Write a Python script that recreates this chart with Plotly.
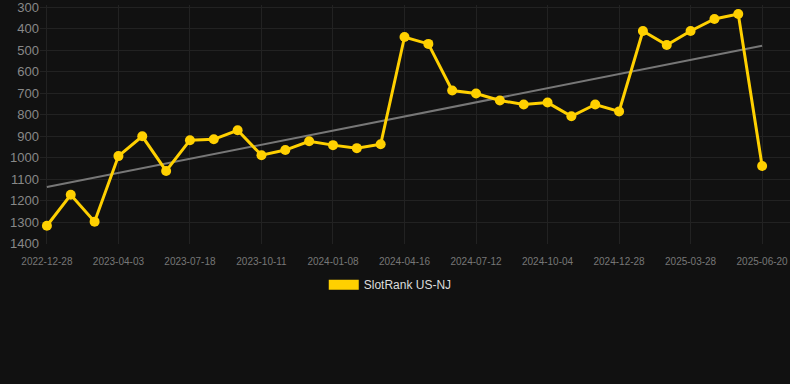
import numpy as np
import plotly.graph_objects as go

dates = ["2022-12-28", "2023-01-30", "2023-03-02", "2023-04-03", "2023-05-08", "2023-06-12",
         "2023-07-18", "2023-08-15", "2023-09-13", "2023-10-11", "2023-11-09", "2023-12-08",
         "2024-01-08", "2024-02-09", "2024-03-13", "2024-04-16", "2024-05-14", "2024-06-12",
         "2024-07-12", "2024-08-09", "2024-09-06", "2024-10-04", "2024-11-01", "2024-11-29",
         "2024-12-28", "2025-01-29", "2025-02-27", "2025-03-28", "2025-04-25", "2025-05-23",
         "2025-06-20"]
ranks = [1317, 1173, 1298, 993, 901, 1062, 919, 915, 873, 989, 965, 924, 942, 956, 938,
         439, 471, 688, 702, 734, 753, 744, 808, 753, 785, 411, 476, 411, 355, 332, 1039]
tick_labels = dates[::3]
series_name = "SlotRank US-NJ"

idx = np.arange(len(ranks))
slope, intercept = np.polyfit(idx, ranks, 1)
trend = slope * idx + intercept

fig = go.Figure()
fig.add_trace(go.Scatter(x=dates, y=trend, mode="lines",
                         line=dict(color="#777777", width=2), showlegend=False, hoverinfo="skip"))
fig.add_trace(go.Scatter(x=dates, y=ranks, mode="lines+markers", name=series_name,
                         line=dict(color="#FFD000", width=3),
                         marker=dict(color="#FFD000", size=10), showlegend=False))
# legend swatch
fig.add_trace(go.Scatter(x=[None], y=[None], mode="lines", name=series_name,
                         line=dict(color="#FFD000", width=12), showlegend=True))
fig.update_layout(
    width=790, height=384,
    paper_bgcolor="#111111", plot_bgcolor="#111111",
    margin=dict(l=40, r=0, t=3, b=140),
    font=dict(family="Liberation Sans, Arial, sans-serif", color="#888888"),
    showlegend=True,
    legend=dict(orientation="h", x=0.467, xanchor="center", y=-0.17, yanchor="middle",
                font=dict(color="#dddddd", size=12)),
)
fig.update_xaxes(type="category", range=[-0.29, 31.17], tickvals=tick_labels, ticktext=tick_labels,
                 showgrid=True, gridcolor="#222222", tickfont=dict(size=10, color="#777777"),
                 zeroline=False, showline=False, ticks="outside", ticklen=8,
                 tickcolor="rgba(0,0,0,0)")
fig.update_yaxes(range=[1402, 290], tickvals=list(range(300, 1401, 100)),
                 showgrid=True, gridcolor="#222222", tickfont=dict(size=13, color="#888888"),
                 zeroline=False, showline=False, ticklabeloverflow="allow")
fig.write_html("out.html", config={"displayModeBar": False},
               post_script="document.body.style.margin='0';document.body.style.background='#111111';")
